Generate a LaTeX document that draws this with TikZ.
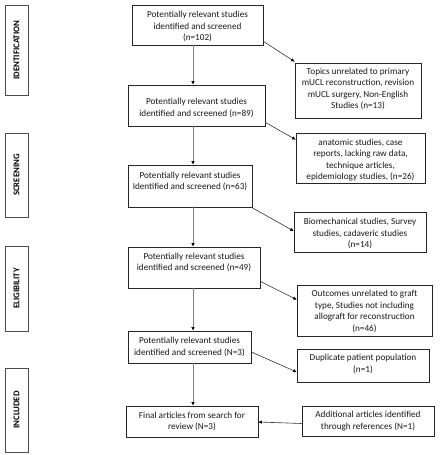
\documentclass[tikz,border=0pt]{standalone}
\usepackage{fontspec}
\setmainfont{Carlito}
\usetikzlibrary{arrows.meta,calc}
\newcommand\fs{\fontsize{9.2}{11.6}\selectfont}
\newcommand\fl{\fontsize{8.8}{10}\selectfont\bfseries}
\tikzset{
  box/.style={draw=black!85, line width=0.8pt, inner sep=0pt},
  txt/.style={align=center, inner sep=0pt, font=\fs, text=black!90},
  lab/.style={draw=black!70, line width=1pt, rotate=90, inner sep=0pt, font=\fl, minimum height=23pt},
  varrow/.style={draw=black!50, line width=0.9pt, -{Triangle[length=3.5pt,width=3pt,fill=black,color=black]}},
  darrow/.style={draw=black!80, line width=0.6pt, -{Triangle[length=3.5pt,width=3pt,fill=black,color=black]}},
}
\begin{document}
\begin{tikzpicture}[x=1pt,y=-1pt]
\useasboundingbox (0,0) rectangle (440,455);
% stage labels
\node[lab, minimum width=90pt] (l1) at (16.5,50) {IDENTIFICATION};
\node[lab, minimum width=84pt] (l2) at (16.5,175) {SCREENING};
\node[lab, minimum width=85pt] (l3) at (16.5,288.5) {ELIGIBILITY};
\node[lab, minimum width=84pt] (l4) at (16.5,410) {INCLUDED};
% main column boxes
\node[box, minimum width=131pt, minimum height=40pt] (b1) at (197.5,25) {};
\node[txt] at (197.5,26.5) {Potentially relevant studies\\identified and screened\\(n=102)};
\node[box, minimum width=137pt, minimum height=41pt] (b2) at (196.5,105.5) {};
\node[txt] at (196.5,108) {Potentially relevant studies\\identified and screened (n=89)};
\node[box, minimum width=124pt, minimum height=42pt] (b3) at (190,186) {};
\node[txt] at (190,181.5) {Potentially relevant studies\\Identified and screened (n=63)};
\node[box, minimum width=132pt, minimum height=41pt] (b4) at (194,267.5) {};
\node[txt] at (194,262.5) {Potentially relevant studies\\identified and screened (n=49)};
\node[box, minimum width=123pt, minimum height=32pt] (b5) at (189.5,347) {};
\node[txt] at (189.5,347) {Potentially relevant studies\\identified and screened (N=3)};
\node[box, minimum width=132pt, minimum height=31pt] (b6) at (192,421.5) {};
\node[txt] at (192,421.5) {Final articles from search for\\review (N=3)};
% right column boxes
\node[box, minimum width=126pt, minimum height=55pt] (r1) at (358,90.5) {};
\node[txt] at (358,89) {Topics unrelated to primary\\mUCL reconstruction, revision\\mUCL surgery, Non-English\\Studies (n=13)};
\node[box, minimum width=129pt, minimum height=50pt] (r2) at (360.5,158) {};
\node[txt] at (360.5,160) {anatomic studies, case\\reports, lacking raw data,\\technique articles,\\epidemiology studies, (n=26)};
\node[box, minimum width=132pt, minimum height=40pt] (r3) at (360,232) {};
\node[txt] at (360,233.5) {Biomechanical studies, Survey\\studies, cadaveric studies\\(n=14)};
\node[box, minimum width=135pt, minimum height=51pt] (r4) at (364.5,310.5) {};
\node[txt] at (364.5,311.5) {Outcomes unrelated to graft\\type, Studies not including\\allograft for reconstruction\\(n=46)};
\node[box, minimum width=132pt, minimum height=33pt] (r5) at (363,365.5) {};
\node[txt] at (363,364) {Duplicate patient population\\(n=1)};
\node[box, minimum width=132pt, minimum height=30pt] (r6) at (368,421) {};
\node[txt] at (368,421) {Additional articles identified\\through references (N=1)};
% vertical arrows
\coordinate (ax) at (193,0);
\draw[varrow] (b1.south -| ax) -- (b2.north -| ax);
\draw[varrow] (b2.south -| ax) -- (b3.north -| ax);
\draw[varrow] (b3.south -| ax) -- (b4.north -| ax);
\draw[varrow] (b4.south -| ax) -- (b5.north -| ax);
\draw[varrow] (b5.south -| ax) -- (b6.north -| ax);
% diagonal arrows
\draw[darrow] ($(b1.south east)+(0,-4)$) -- ($(r1.north west)+(0,-1)$);
\draw[darrow] ($(b2.south east)+(0,-4)$) -- ($(r2.north west)+(0,7)$);
\draw[darrow] ($(b3.south east)+(0,0.5)$) -- ($(r3.west)+(0,-1)$);
\draw[darrow] ($(b4.south east)+(0,-7)$) -- ($(r4.north west)+(0,15)$);
\draw[darrow] ($(b5.east)+(0,5)$) -- ($(r5.west)+(0,6.5)$);
\draw[darrow] ($(r6.west)+(0,2.5)$) -- ($(b6.east)+(0,0.5)$);
\end{tikzpicture}
\end{document}
